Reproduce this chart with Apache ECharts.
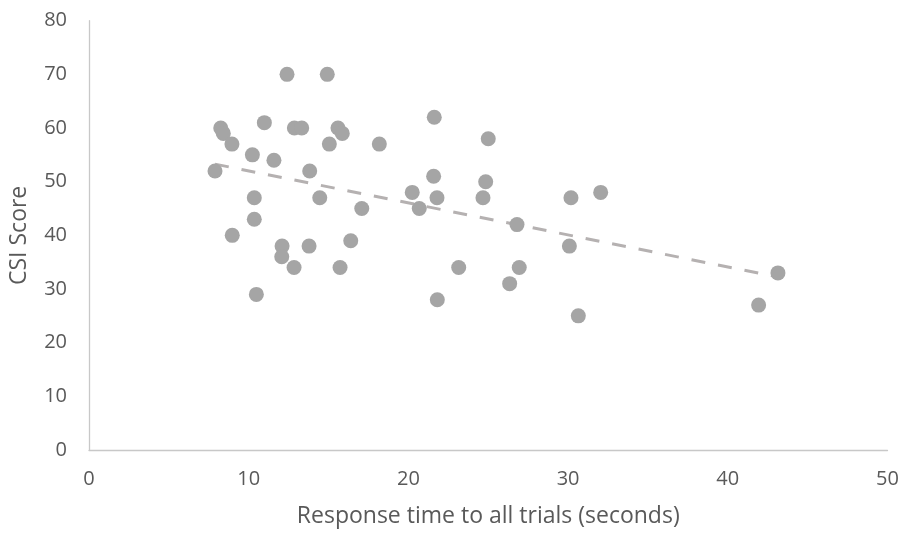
<!DOCTYPE html>
<html><head><meta charset="utf-8">
<script src="https://cdn.jsdelivr.net/npm/echarts@6/dist/echarts.min.js"></script>
<style>html,body{margin:0;padding:0;background:#fff}#c{width:902px;height:533px}</style>
</head><body><div id="c"></div>
<script>
const responseTime = [12.40,14.92,8.25,8.41,8.95,10.98,12.86,13.32,15.59,15.86,15.05,18.18,10.23,11.58,7.89,13.82,20.24,10.35,14.45,17.08,20.68,10.35,8.97,12.09,13.78,16.39,12.07,12.84,15.72,10.48,21.62,25.00,21.58,24.84,32.04,21.79,24.67,30.18,26.80,30.08,23.15,26.94,26.34,21.81,30.64,43.14,41.93];
const csiScore = [70,70,60,59,57,61,60,60,60,59,57,57,55,54,52,52,48,47,47,45,45,43,40,38,38,39,36,34,34,29,62,58,51,50,48,47,47,47,42,38,34,34,31,28,25,33,27];
const xTicks = [0,10,20,30,40,50];
const yTicks = [0,10,20,30,40,50,60,70,80];

const points = responseTime.map((x,i)=>[x,csiScore[i]]);
// least squares trendline
const n = points.length;
let sx=0,sy=0,sxx=0,sxy=0;
points.forEach(([x,y])=>{sx+=x;sy+=y;sxx+=x*x;sxy+=x*y;});
const slope=(n*sxy-sx*sy)/(n*sxx-sx*sx);
const icpt=(sy-slope*sx)/n;
const xmin=Math.min(...responseTime), xmax=Math.max(...responseTime);
const trend=[[xmin,icpt+slope*xmin],[xmax,icpt+slope*xmax]];

const font='"Open Sans", sans-serif';
const chart = echarts.init(document.getElementById('c'));
chart.setOption({
  animation:false,
  grid:{left:89,right:14.5,top:20.7,bottom:83},
  xAxis:{type:'value',min:xTicks[0],max:xTicks[xTicks.length-1],interval:10,
    name:'Response time to all trials (seconds)',nameLocation:'middle',nameGap:55,
    nameTextStyle:{color:'#595959',fontSize:23,fontFamily:font},
    axisLine:{show:true,lineStyle:{color:'#C8C8C8',width:1.3}},axisTick:{show:false},
    splitLine:{show:false},
    axisLabel:{color:'#595959',fontSize:20,fontFamily:font,margin:19}},
  yAxis:{type:'value',min:yTicks[0],max:yTicks[yTicks.length-1],interval:10,
    name:'CSI Score',nameLocation:'middle',nameGap:58,
    nameTextStyle:{color:'#595959',fontSize:23,fontFamily:font},
    axisLine:{show:true,lineStyle:{color:'#C8C8C8',width:1.3}},axisTick:{show:false},
    splitLine:{show:false},
    axisLabel:{color:'#595959',fontSize:20,fontFamily:font,margin:22}},
  series:[
    {type:'line',data:trend,symbol:'none',lineStyle:{color:'#B5B1B1',width:3,type:[14,13]},z:1},
    {type:'scatter',data:points,symbolSize:15,itemStyle:{color:'#A5A5A5',opacity:1},z:2}
  ]
});
</script></body></html>
